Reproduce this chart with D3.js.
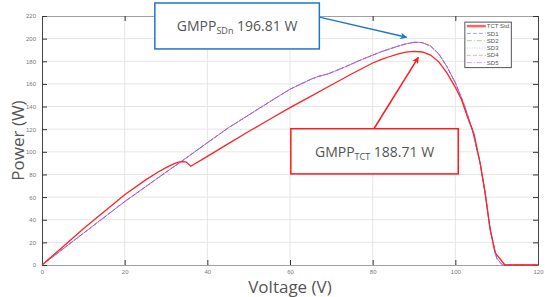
<!DOCTYPE html>
<html>
<head>
<meta charset="utf-8">
<script src="https://cdn.jsdelivr.net/npm/d3@7"></script>
<style>
  body { margin: 0; background: #fff; }
  svg { display: block; }
  .tick text { font-family: "Liberation Sans", sans-serif; font-size: 6px; fill: #777; }
</style>
</head>
<body>
<svg id="chart" width="545" height="297"></svg>
<script>
// datos
const xTicks = [0, 20, 40, 60, 80, 100, 120];
const yTicks = [0, 20, 40, 60, 80, 100, 120, 140, 160, 180, 200, 220];

const tctVoltage = [0, 5, 10, 15, 20, 25, 28, 30, 32, 33, 34, 34.8, 36, 40, 45, 50, 55, 60, 65, 70, 75, 80, 82, 84, 86, 88, 90, 92, 94, 96, 98, 100, 101.5, 103, 104.5, 106, 107.2, 108.4, 109.6, 112, 120];
const tctPower   = [0, 16, 32, 47, 62, 75, 82, 86, 89.5, 90.8, 91.4, 91.2, 87.2, 96, 107, 118, 128.5, 139, 149, 159, 169, 178.5, 181.5, 184, 186.3, 188, 188.7, 188.2, 185.5, 179.5, 169.5, 157, 146, 130, 116, 90, 64, 32, 11, 0, 0];

const sdVoltage = [0, 5, 10, 15, 20, 25, 30, 33.8, 40, 45, 50, 55, 60, 65, 67, 69, 71, 73, 77, 80, 82, 84, 86, 88, 90, 92, 94, 96, 98, 100, 102, 104, 106, 107.2, 108.4, 110, 111.4, 120];
const sdPower   = [0, 14, 28, 42, 56, 69, 82, 91.7, 108, 121, 132.5, 144, 155.3, 164, 166.8, 168.6, 171.5, 174.5, 181, 185.4, 188.3, 190.8, 193.2, 195.3, 196.8, 196.5, 193.5, 186.5, 175, 161, 143, 121, 90, 64, 32, 6, 0, 0];

const seriesNames = ["TCT Std.", "SD1", "SD2", "SD3", "SD4", "SD5"];
const seriesColors = ["#ff2222", "#5a5aff", "#40c040", "#a0a0a0", "#f07070", "#e040e0"];
const seriesDash = [null, "4,2", "5,2,1,2", "1,1.5", "4,2", "5,2,1,2"];

const gmppSd = 196.81;
const gmppTct = 188.71;

const svg = d3.select("#chart");
const width = +svg.attr("width");
const height = +svg.attr("height");
const margin = { top: 16, right: 7, bottom: 32, left: 42 };

const x = d3.scaleLinear().domain([0, 120]).range([margin.left, width - margin.right]);
const y = d3.scaleLinear().domain([0, 220]).range([height - margin.bottom, margin.top]);

// grid
svg.append("g").selectAll("line")
  .data(xTicks.slice(1, -1))
  .join("line")
  .attr("x1", d => x(d)).attr("x2", d => x(d))
  .attr("y1", y(0)).attr("y2", y(220))
  .attr("stroke", "#e6e6e6");
svg.append("g").selectAll("line")
  .data(yTicks.slice(1, -1))
  .join("line")
  .attr("x1", x(0)).attr("x2", x(120))
  .attr("y1", d => y(d)).attr("y2", d => y(d))
  .attr("stroke", "#e6e6e6");

// ejes
function estiloEje(g, color) {
  g.select(".domain").attr("stroke", color);
  g.selectAll(".tick line").attr("stroke", "#333");
}
svg.append("g").attr("transform", `translate(0,${y(0)})`)
  .call(d3.axisBottom(x).tickValues(xTicks).tickSize(-5).tickPadding(5).tickSizeOuter(0))
  .call(g => estiloEje(g, "#a0a0a0"));
svg.append("g").attr("transform", `translate(0,${y(220)})`)
  .call(d3.axisTop(x).tickValues(xTicks).tickSize(-5).tickFormat("").tickSizeOuter(0))
  .call(g => estiloEje(g, "#a0a0a0"));
svg.append("g").attr("transform", `translate(${x(0)},0)`)
  .call(d3.axisLeft(y).tickValues(yTicks).tickSize(-5).tickPadding(6).tickSizeOuter(0))
  .call(g => estiloEje(g, "#444"));
svg.append("g").attr("transform", `translate(${x(120)},0)`)
  .call(d3.axisRight(y).tickValues(yTicks).tickSize(-5).tickFormat("").tickSizeOuter(0))
  .call(g => estiloEje(g, "#444"));

// curvas
const linea = d3.line().x(d => x(d[0])).y(d => y(d[1]));
const tct = tctVoltage.map((v, i) => [v, tctPower[i]]);
const sd = sdVoltage.map((v, i) => [v, sdPower[i]]);

[2, 3, 4, 1, 5].forEach(i => {
  svg.append("path").datum(sd)
    .attr("d", linea)
    .attr("fill", "none")
    .attr("stroke", seriesColors[i])
    .attr("stroke-width", 1)
    .attr("stroke-dasharray", seriesDash[i])
    .attr("stroke-dashoffset", i * 1.3)
    .attr("opacity", i === 1 || i === 5 ? 0.85 : 0.5);
});
svg.append("path").datum(tct)
  .attr("d", linea)
  .attr("fill", "none")
  .attr("stroke", seriesColors[0])
  .attr("stroke-width", 1.3);

// leyenda
const leg = svg.append("g").attr("transform", `translate(${x(102.3)},${y(214.6)})`);
leg.append("rect").attr("width", 46.5).attr("height", 45.5)
  .attr("fill", "#fff").attr("stroke", "#555").attr("stroke-width", 1);
seriesNames.forEach((name, i) => {
  const yy = 4 + i * 7.3;
  leg.append("line").attr("x1", 2).attr("x2", 21).attr("y1", yy).attr("y2", yy)
    .attr("stroke", seriesColors[i])
    .attr("stroke-opacity", i === 0 ? 0.7 : 0.55)
    .attr("stroke-width", i === 0 ? 2.5 : 1)
    .attr("stroke-dasharray", seriesDash[i]);
  leg.append("text").attr("x", 22).attr("y", yy + 2.1)
    .attr("font-family", "Liberation Sans, sans-serif")
    .attr("font-size", 6).attr("fill", "#555")
    .text(name);
});

// flechas
const defs = svg.append("defs");
function punta(id, color) {
  defs.append("marker").attr("id", id)
    .attr("viewBox", "0 0 10 10").attr("refX", 9).attr("refY", 5)
    .attr("markerWidth", 9).attr("markerHeight", 7).attr("markerUnits", "userSpaceOnUse")
    .attr("orient", "auto")
    .append("path").attr("d", "M0,0 L10,5 L0,10 L3,5 Z").attr("fill", color);
}
punta("flechaAzul", "#1f77c9");
punta("flechaRoja", "#ff1a1a");

svg.append("line")
  .attr("x1", x(67.1)).attr("y1", y(219)).attr("x2", x(88.2)).attr("y2", y(201.2))
  .attr("stroke", "#1f77c9").attr("stroke-width", 1.5).attr("marker-end", "url(#flechaAzul)");
svg.append("line")
  .attr("x1", x(80.3)).attr("y1", y(120.4)).attr("x2", x(91.05)).attr("y2", y(183.4))
  .attr("stroke", "#ff1a1a").attr("stroke-width", 1.5).attr("marker-end", "url(#flechaRoja)");

// cajas
function caja(v0, v1, p0, p1, color, sub, valor) {
  svg.append("rect")
    .attr("x", x(v0)).attr("y", y(p0))
    .attr("width", x(v1) - x(v0)).attr("height", y(p1) - y(p0))
    .attr("fill", "#fff").attr("stroke", color).attr("stroke-width", 1.5);
  const t = svg.append("text")
    .attr("x", (x(v0) + x(v1)) / 2)
    .attr("y", (y(p0) + y(p1)) / 2 + 5.5)
    .attr("text-anchor", "middle")
    .attr("font-family", "Open Sans, sans-serif")
    .attr("font-size", 14).attr("fill", "#555");
  t.append("tspan").text("GMPP");
  t.append("tspan").attr("font-size", 9).attr("dy", 3).text(sub);
  t.append("tspan").attr("dy", -3).text(" " + valor + " W");
}
caja(27.3, 67.1, 231.5, 190.9, "#1f77c9", "SDn", gmppSd.toFixed(2));
caja(60.2, 100.7, 120.4, 80.5, "#ff1a1a", "TCT", gmppTct.toFixed(2));

// titulos
svg.append("text")
  .attr("x", (x(0) + x(120)) / 2).attr("y", height - 4)
  .attr("text-anchor", "middle")
  .attr("font-family", "Open Sans, sans-serif")
  .attr("font-size", 17).attr("fill", "#555")
  .text("Voltage (V)");
svg.append("text")
  .attr("transform", `translate(24,${(y(0) + y(220)) / 2}) rotate(-90)`)
  .attr("text-anchor", "middle")
  .attr("font-family", "Open Sans, sans-serif")
  .attr("font-size", 17).attr("fill", "#555")
  .text("Power (W)");
</script>
</body>
</html>
